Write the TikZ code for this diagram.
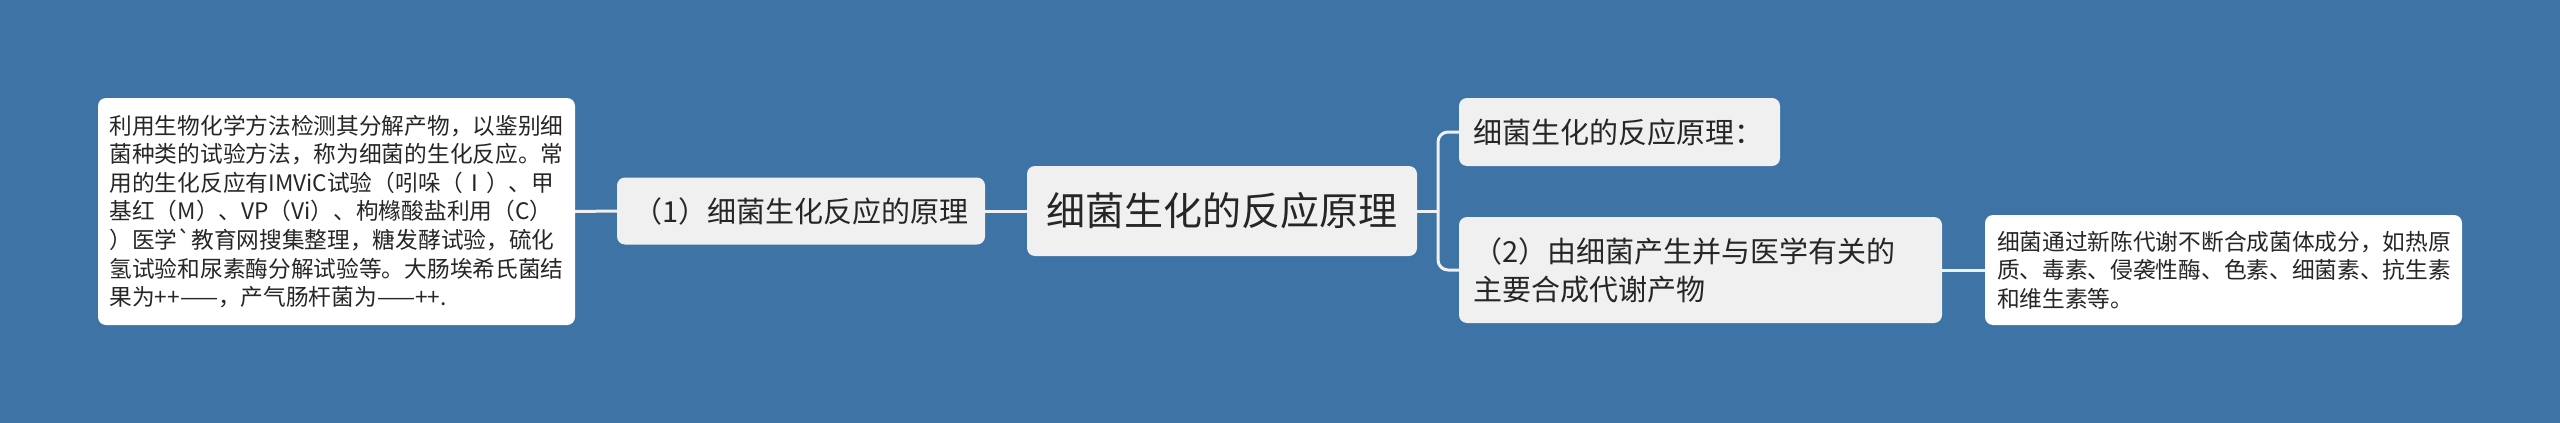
\documentclass[tikz,border=0pt]{standalone}
\usepackage{fontspec}
\setmainfont{Noto Sans CJK SC}
\usetikzlibrary{positioning}
\definecolor{mapblue}{RGB}{61,115,165}
\definecolor{cardgrey}{RGB}{240,240,240}
\definecolor{inkgrey}{RGB}{38,38,38}
\tikzset{
  card/.style={fill=cardgrey, rounded corners=8pt, text=inkgrey, inner sep=0pt},
  leafcard/.style={card, fill=white, align=left, font=\fontsize{22.7pt}{28.6pt}\selectfont},
  midcard/.style={card, font=\fontsize{29pt}{38pt}\selectfont},
  link/.style={draw=cardgrey, line width=3pt}
}

\begin{document}
\begin{tikzpicture}[x=1pt, y=-1pt]
  \fill[mapblue] (0,0) rectangle (2560,423);

  \node[card, font=\fontsize{39pt}{46pt}\selectfont, minimum width=390pt, minimum height=90pt] (root) at (1222,211) {细菌生化的反应原理};

  \node[midcard, minimum width=368pt, minimum height=67pt] (p1) at (801,211) {（1）细菌生化反应的原理};
  \node[leafcard, text width=454pt, inner xsep=11.5pt, minimum height=227pt] (lft) at (336.5,211.5) {
    利用生物化学方法检测其分解产物，以鉴别细\\
    菌种类的试验方法，称为细菌的生化反应。常\\
    用的生化反应有IMViC试验（吲哚（Ⅰ）、甲\\
    基红（M）、VP（Vi）、枸橼酸盐利用（C）\\
    ）医学\textasciigrave 教育网搜集整理，糖发酵试验，硫化\\
    氢试验和尿素酶分解试验等。大肠埃希氏菌结\\
    果为++——，产气肠杆菌为——++.
  };

  \node[midcard, align=left, text width=293pt, inner xsep=14pt, minimum height=68pt] (tr) at (1619.5,132) {细菌生化的反应原理：};
  \node[midcard, align=left, text width=455pt, inner xsep=14pt, minimum height=106pt] (br) at (1700.5,270) {
    （2）由细菌产生并与医学有关的\\
    主要合成代谢产物
  };
  \node[leafcard, text width=453pt, inner xsep=12pt, minimum height=110pt] (fr) at (2223.5,270) {
    细菌通过新陈代谢不断合成菌体成分，如热原\\
    质、毒素、侵袭性酶、色素、细菌素、抗生素\\
    和维生素等。
  };

  % connectors
  \coordinate (fork) at (1438,211);
  \draw[link] (lft.east) -- (p1.west);
  \draw[link] (p1.east) -- (root.west);
  \draw[link] (root.east) -- (fork);
  \draw[link, rounded corners=10pt] (fork) |- (tr.west);
  \draw[link, rounded corners=10pt] (fork) |- (br.west);
  \draw[link] (br.east) -- (fr.west);
\end{tikzpicture}
\end{document}
